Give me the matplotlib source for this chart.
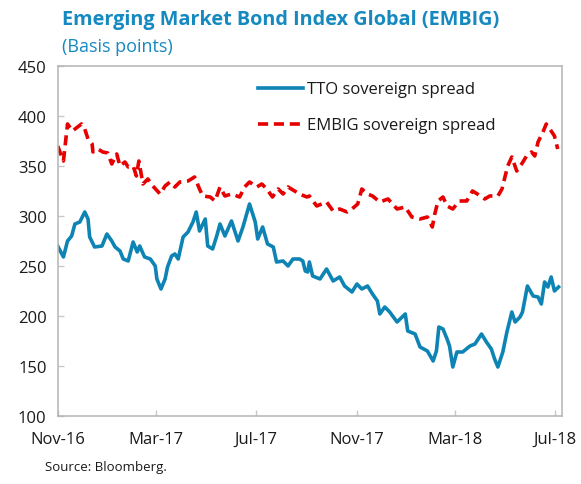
import matplotlib
matplotlib.use('Agg')
import matplotlib.pyplot as plt
import matplotlib.dates as mdates
import pandas as pd

# EMBIG sovereign spread (bp)
embig_dates = ["2016-11-01", "2016-11-08", "2016-11-13", "2016-11-19", "2016-11-30", "2016-12-04",
               "2016-12-08", "2016-12-13", "2016-12-14", "2016-12-20", "2016-12-26", "2017-01-01",
               "2017-01-06", "2017-01-12", "2017-01-16", "2017-01-22", "2017-01-26", "2017-02-01",
               "2017-02-05", "2017-02-08", "2017-02-13", "2017-02-19", "2017-02-25", "2017-03-06",
               "2017-03-12", "2017-03-18", "2017-03-24", "2017-03-30", "2017-04-09", "2017-04-17",
               "2017-04-23", "2017-04-27", "2017-05-06", "2017-05-12", "2017-05-18", "2017-05-24",
               "2017-06-01", "2017-06-11", "2017-06-17", "2017-06-23", "2017-07-02", "2017-07-08",
               "2017-07-14", "2017-07-21", "2017-07-28", "2017-08-03", "2017-08-09", "2017-08-23",
               "2017-09-01", "2017-09-04", "2017-09-13", "2017-09-25", "2017-10-03", "2017-10-11",
               "2017-10-20", "2017-10-26", "2017-11-02", "2017-11-07", "2017-11-14", "2017-11-20",
               "2017-11-29", "2017-12-09", "2017-12-20", "2017-12-30", "2018-01-07", "2018-01-17",
               "2018-01-26", "2018-02-01", "2018-02-04", "2018-02-08", "2018-02-14", "2018-02-19",
               "2018-02-26", "2018-03-06", "2018-03-15", "2018-03-22", "2018-03-28", "2018-04-06",
               "2018-04-12", "2018-04-22", "2018-04-27", "2018-04-30", "2018-05-04", "2018-05-09",
               "2018-05-15", "2018-05-21", "2018-05-27", "2018-06-02", "2018-06-06", "2018-06-10",
               "2018-06-16", "2018-06-20", "2018-06-26", "2018-06-30", "2018-07-04"]
embig_vals = [370, 355, 392, 385, 392, 387,
              377, 372, 364, 367, 364, 363,
              352, 362, 350, 354, 349, 350,
              340, 355, 332, 337, 330, 322,
              330, 334, 329, 334, 335, 339,
              327, 320, 319, 315, 329, 320,
              322, 319, 329, 334, 329, 332,
              327, 319, 327, 322, 329, 322,
              319, 320, 310, 314, 305, 307,
              304, 307, 312, 327, 322, 320,
              314, 317, 307, 309, 299, 297,
              299, 289, 302, 315, 319, 310,
              307, 315, 315, 325, 322, 317,
              320, 320, 327, 337, 350, 359,
              345, 352, 360, 364, 360, 374,
              384, 392, 385, 380, 367]

# TTO sovereign spread (bp)
tto_dates = ["2016-11-01", "2016-11-08", "2016-11-13", "2016-11-18", "2016-11-22", "2016-11-28",
             "2016-12-04", "2016-12-08", "2016-12-10", "2016-12-16", "2016-12-25", "2016-12-31",
             "2017-01-06", "2017-01-10", "2017-01-16", "2017-01-20", "2017-01-26", "2017-02-01",
             "2017-02-06", "2017-02-09", "2017-02-15", "2017-02-22", "2017-02-28", "2017-03-02",
             "2017-03-07", "2017-03-12", "2017-03-15", "2017-03-20", "2017-03-24", "2017-03-28",
             "2017-04-03", "2017-04-09", "2017-04-15", "2017-04-19", "2017-04-23", "2017-04-30",
             "2017-05-03", "2017-05-09", "2017-05-14", "2017-05-18", "2017-05-24", "2017-06-01",
             "2017-06-09", "2017-06-15", "2017-06-23", "2017-06-30", "2017-07-03", "2017-07-09",
             "2017-07-15", "2017-07-22", "2017-07-26", "2017-08-03", "2017-08-09", "2017-08-15",
             "2017-08-23", "2017-08-27", "2017-08-30", "2017-09-02", "2017-09-04", "2017-09-08",
             "2017-09-17", "2017-09-25", "2017-10-03", "2017-10-11", "2017-10-17", "2017-10-26",
             "2017-11-01", "2017-11-07", "2017-11-14", "2017-11-20", "2017-11-26", "2017-11-29",
             "2017-12-05", "2017-12-11", "2017-12-20", "2017-12-30", "2018-01-02", "2018-01-11",
             "2018-01-17", "2018-01-26", "2018-02-02", "2018-02-06", "2018-02-09", "2018-02-14",
             "2018-02-19", "2018-02-22", "2018-02-26", "2018-03-03", "2018-03-10", "2018-03-19",
             "2018-03-25", "2018-04-02", "2018-04-08", "2018-04-14", "2018-04-18", "2018-04-22",
             "2018-04-28", "2018-05-03", "2018-05-09", "2018-05-13", "2018-05-19", "2018-05-22",
             "2018-05-28", "2018-06-04", "2018-06-10", "2018-06-14", "2018-06-18", "2018-06-22",
             "2018-06-26", "2018-06-30", "2018-07-05"]
tto_vals = [270, 259, 275, 280, 292, 294,
            304, 297, 279, 269, 270, 282,
            275, 269, 265, 257, 255, 274,
            264, 270, 259, 257, 250, 237,
            227, 237, 249, 260, 262, 257,
            279, 284, 294, 304, 285, 297,
            270, 267, 280, 292, 280, 295,
            275, 289, 312, 294, 277, 289,
            272, 269, 254, 255, 250, 257,
            257, 255, 245, 244, 254, 240,
            237, 247, 235, 239, 230, 224,
            232, 227, 230, 222, 215, 202,
            209, 204, 194, 202, 185, 182,
            169, 165, 155, 165, 189, 187,
            177, 170, 149, 164, 164, 170,
            172, 182, 174, 167, 157, 149,
            164, 184, 204, 194, 199, 204,
            230, 220, 219, 212, 234, 229,
            239, 225, 229]

tick_dates = ["2016-11-01", "2017-03-01", "2017-07-01", "2017-11-01", "2018-03-01", "2018-07-01"]

blue = '#0e84b4'
red = '#e60000'
title_col = '#1689c0'
grey = '#b4b4b4'

plt.rcParams['font.family'] = ['Open Sans', 'DejaVu Sans']

fig = plt.figure(figsize=(5.81, 4.85), dpi=100)
ax = fig.add_axes([0.0993, 0.1402, 0.8677, 0.7217])

ax.plot(pd.to_datetime(tto_dates), tto_vals, color=blue, lw=2.6,
        solid_joinstyle='round', label='TTO sovereign spread')
ax.plot(pd.to_datetime(embig_dates), embig_vals, color=red, lw=2.6,
        dashes=(2.8, 1.6), label='EMBIG sovereign spread')

ax.set_xlim(pd.Timestamp("2016-11-01"), pd.Timestamp("2018-07-09"))
ax.set_ylim(100, 450)
ax.set_yticks(range(100, 451, 50))
ax.set_xticks(pd.to_datetime(tick_dates))
ax.xaxis.set_major_formatter(mdates.DateFormatter('%b-%y'))

for s in ax.spines.values():
    s.set_color(grey)
    s.set_linewidth(1.1)
ax.tick_params(axis='both', direction='in', length=4, width=1, color='#c8c8c8',
               labelsize=12, labelcolor='#1a1a1a')
ax.tick_params(axis='y', pad=8)
ax.tick_params(axis='x', pad=11)

leg = ax.legend(loc='upper left', bbox_to_anchor=(0.385, 0.975), frameon=False,
                fontsize=12, handlelength=2.7, handletextpad=0.2, labelspacing=1.2,
                borderaxespad=0)
for t in leg.get_texts():
    t.set_color('#1a1a1a')

fig.text(0.107, 0.959, 'Emerging Market Bond Index Global (EMBIG)', fontsize=14.3,
         fontweight='bold', color=title_col, va='center')
fig.text(0.107, 0.903, '(Basis points)', fontsize=13, color=title_col, va='center')
fig.text(0.077, 0.037, 'Source: Bloomberg.', fontsize=9.5, color='#1a1a1a', va='center')

fig.savefig('out.png', dpi=100)
